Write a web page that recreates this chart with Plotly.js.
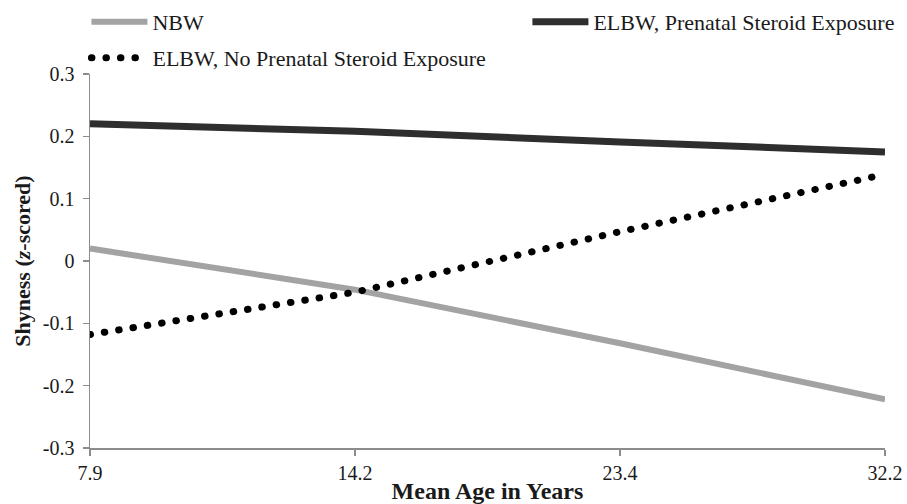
<!DOCTYPE html>
<html><head><meta charset="utf-8">
<script src="https://cdn.plot.ly/plotly-3.0.1.min.js"></script>
<style>
body{margin:0;background:#fff}
path[style*="0.5px"]{stroke-linecap:round}
</style>
</head><body>
<div id="chart" style="width:907px;height:504px"></div>
<script>
const ages = ['7.9','14.2','23.4','32.2'];
const nbw = [0.02, -0.046, -0.132, -0.222];
const elbwSteroid = [0.22, 0.208, 0.191, 0.175];
const elbwNoSteroid = [-0.118, -0.05, 0.047, 0.139];
const yTickVals = [-0.3,-0.2,-0.1,0,0.1,0.2,0.3];
const yTickText = ['-0.3','-0.2','-0.1','0','0.1','0.2','0.3'];

const FAM = '"Liberation Serif", "Times New Roman", serif';
const TXT = '#1a1a1a';
const traces = [
  {x: ages, y: nbw, name: 'NBW', mode: 'lines', line: {color: '#a3a3a3', width: 6}, legend: 'legend'},
  {x: ages, y: elbwSteroid, name: 'ELBW, Prenatal Steroid Exposure', mode: 'lines', line: {color: '#2e2e2e', width: 7}, legend: 'legend2'},
  {x: ages, y: elbwNoSteroid, name: 'ELBW, No Prenatal Steroid Exposure', mode: 'lines', line: {color: '#000', width: 7, dash: '0.5px,14px'}, legend: 'legend3'}
];
const legBase = {orientation: 'h', xref: 'container', yref: 'container', xanchor: 'left', yanchor: 'middle',
                 font: {family: FAM, size: 22, color: TXT}, bgcolor: 'rgba(0,0,0,0)', itemwidth: 56};
const layout = {
  width: 907, height: 504,
  margin: {l: 90, r: 22, t: 74, b: 56, autoexpand: false},
  paper_bgcolor: '#fff', plot_bgcolor: '#fff',
  font: {family: FAM, size: 20, color: TXT},
  showlegend: true,
  legend: Object.assign({}, legBase, {x: 0.0953, y: 1 - 22/504}),
  legend2: Object.assign({}, legBase, {x: 0.5815, y: 1 - 22/504}),
  legend3: Object.assign({}, legBase, {x: 0.0953, y: 1 - 58/504}),
  xaxis: {
    type: 'category', categoryorder: 'array', categoryarray: ages, range: [0, 3],
    showgrid: false, zeroline: false, showline: true, linecolor: '#8c8c8c', linewidth: 1.5,
    ticks: 'outside', ticklen: 6, tickcolor: '#8c8c8c', tickwidth: 1.5,
    tickfont: {family: FAM, size: 20, color: TXT}, automargin: false,
    title: {text: '<b>Mean Age in Years</b>', font: {family: FAM, size: 24, color: TXT}, standoff: 0}
  },
  yaxis: {
    range: [-0.3, 0.3], tickvals: yTickVals, ticktext: yTickText,
    showgrid: false, zeroline: false, showline: true, linecolor: '#8c8c8c', linewidth: 1.5,
    ticks: 'outside', ticklen: 6, tickcolor: '#8c8c8c', tickwidth: 1.5,
    tickfont: {family: FAM, size: 20, color: TXT}, ticklabelstandoff: 4, automargin: false,
    title: {text: '<b>Shyness (<i>z</i>-scored)</b>', font: {family: FAM, size: 22, color: TXT}, standoff: 6}
  }
};
Plotly.newPlot('chart', traces, layout, {displayModeBar: false, staticPlot: true});
</script>
</body></html>
